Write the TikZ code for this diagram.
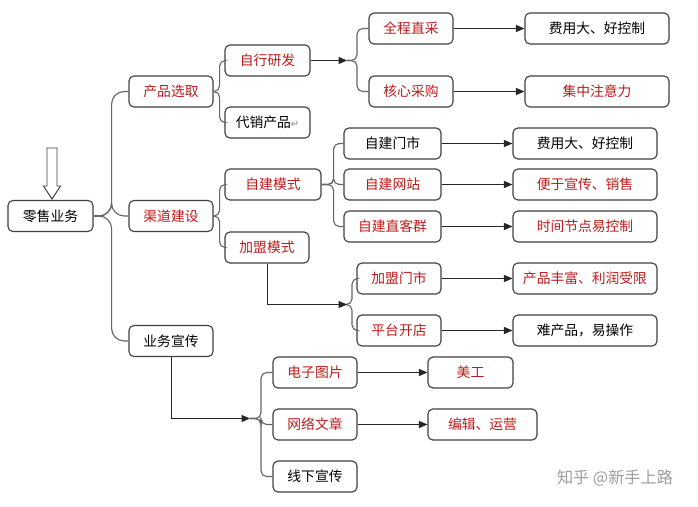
\documentclass[tikz,border=0pt]{standalone}
\usepackage{fontspec}
\setmainfont{Noto Sans CJK SC}
\newfontfamily\symfont{DejaVu Sans}
\usetikzlibrary{arrows.meta}
\definecolor{hotred}{RGB}{190,28,28}
\definecolor{rim}{RGB}{64,64,64}

\begin{document}
\begin{tikzpicture}[
  x=0.025cm,y=-0.025cm,
  every node/.style={inner sep=0pt,font=\fontsize{9.8}{12}\selectfont},
  box/.style={draw=rim,line width=0.8pt,rounded corners=3.5pt,fill=white,
    minimum width=2.1cm,minimum height=0.775cm,text=black},
  hot/.style={box,text=hotred},
  brace/.style={draw=black!60,line width=0.8pt,rounded corners=4pt},
  arr/.style={draw=black!85,line width=0.65pt,-{Triangle[length=6pt,width=5pt]}}
]
\useasboundingbox[fill=white] (0,0) rectangle (698,507);

% Root
\node[box,minimum width=2.125cm] (root) at (50.5,216) {零售业务};
\draw[rim,line width=0.7pt,fill=white] (47,148) -- (57,148) -- (57,186) -- (60.5,186)
  -- (52,199) -- (43.5,186) -- (47,186) -- cycle;

% Level one
\node[hot,minimum width=2.1cm] (pick)  at (171,91.5) {产品选取};
\node[hot,minimum width=2.1cm] (chan)  at (171,216)  {渠道建设};
\node[box,minimum width=2.1cm] (promo) at (171,341)  {业务宣传};

% Products
\node[hot,minimum width=2.125cm] (dev)   at (267.5,60.5)  {自行研发};
\node[box,minimum width=2.125cm] (agent) at (267.5,122.5) {代销产品{\symfont\color{black!45}\scriptsize ↵}};
\node[hot] (direct) at (411,28.5) {全程直采};
\node[hot] (core)   at (411,91.5) {核心采购};
\node[box,minimum width=3.6cm] (cost1) at (597,28.5) {费用大、好控制};
\node[hot,minimum width=3.6cm] (focus) at (597,91.5) {集中注意力};

% Channels
\node[hot,minimum width=2.4cm] (self) at (273,184.5) {自建模式};
\node[hot]                     (join) at (267,247.5) {加盟模式};
\node[box,minimum width=2.425cm] (shop)  at (392.5,143.5) {自建门市};
\node[hot,minimum width=2.425cm] (site)  at (392.5,184.5) {自建网站};
\node[hot,minimum width=2.425cm] (crowd) at (392.5,226.5) {自建直客群};
\node[box,minimum width=3.6cm] (cost2) at (585,143.5) {费用大、好控制};
\node[hot,minimum width=3.6cm] (easy)  at (585,184.5) {便于宣传、销售};
\node[hot,minimum width=3.6cm] (time)  at (585,226.5) {时间节点易控制};
\node[hot] (jshop) at (399,278.5) {加盟门市};
\node[hot] (plat)  at (399,330.5) {平台开店};
\node[hot,minimum width=3.6cm] (rich) at (585,278.5) {产品丰富、利润受限};
\node[box,minimum width=3.6cm] (hard) at (585,330.5) {难产品，易操作};

% Promotion
\node[hot] (pic) at (315,372.5) {电子图片};
\node[hot] (art) at (315,424.5) {网络文章};
\node[box] (off) at (315,476.5) {线下宣传};
\node[hot,minimum width=2.125cm] (design) at (470.5,372.5) {美工};
\node[hot,minimum width=2.725cm] (edit)   at (482.5,424.5) {编辑、运营};

% Split points
\coordinate (s1) at (347,60.5);
\coordinate (s2) at (347,304.5);
\coordinate (s3) at (250,418.5);

% Braces
\foreach \c in {pick,chan,promo}
  \draw[brace,rounded corners=9pt] (root.east) -- ++(18,0) |- (\c.west);
\foreach \c in {dev,agent}
  \draw[brace] (pick.east) -- ++(6,0) |- (\c.west);
\foreach \c in {self,join}
  \draw[brace] (chan.east) -- ++(6,0) |- (\c.west);
\foreach \c in {shop,site,crowd}
  \draw[brace] (self.east) -- ++(12,0) |- (\c.west);
\foreach \c in {direct,core}
  \draw[brace] (s1) -- ++(10,0) |- (\c.west);
\foreach \c in {jshop,plat}
  \draw[brace] (s2) -- ++(5,0) |- (\c.west);
\foreach \c in {pic,art,off}
  \draw[brace] (s3) -- ++(11,0) |- (\c.west);

% Arrows
\draw[arr] (dev) -- (s1);
\draw[arr] (join.south) |- (s2);
\draw[arr] (promo.south) |- (s3);
\draw[arr] (direct) -- (cost1);
\draw[arr] (core) -- (focus);
\draw[arr] (shop) -- (cost2);
\draw[arr] (site) -- (easy);
\draw[arr] (crowd) -- (time);
\draw[arr] (jshop) -- (rich);
\draw[arr] (plat) -- (hard);
\draw[arr] (pic) -- (design);
\draw[arr] (art) -- (edit);

% Watermark
\node[text=black!38,font=\fontsize{11.5}{14}\selectfont] (mark) at (615,478) {知乎 @新手上路};

\end{tikzpicture}
\end{document}
